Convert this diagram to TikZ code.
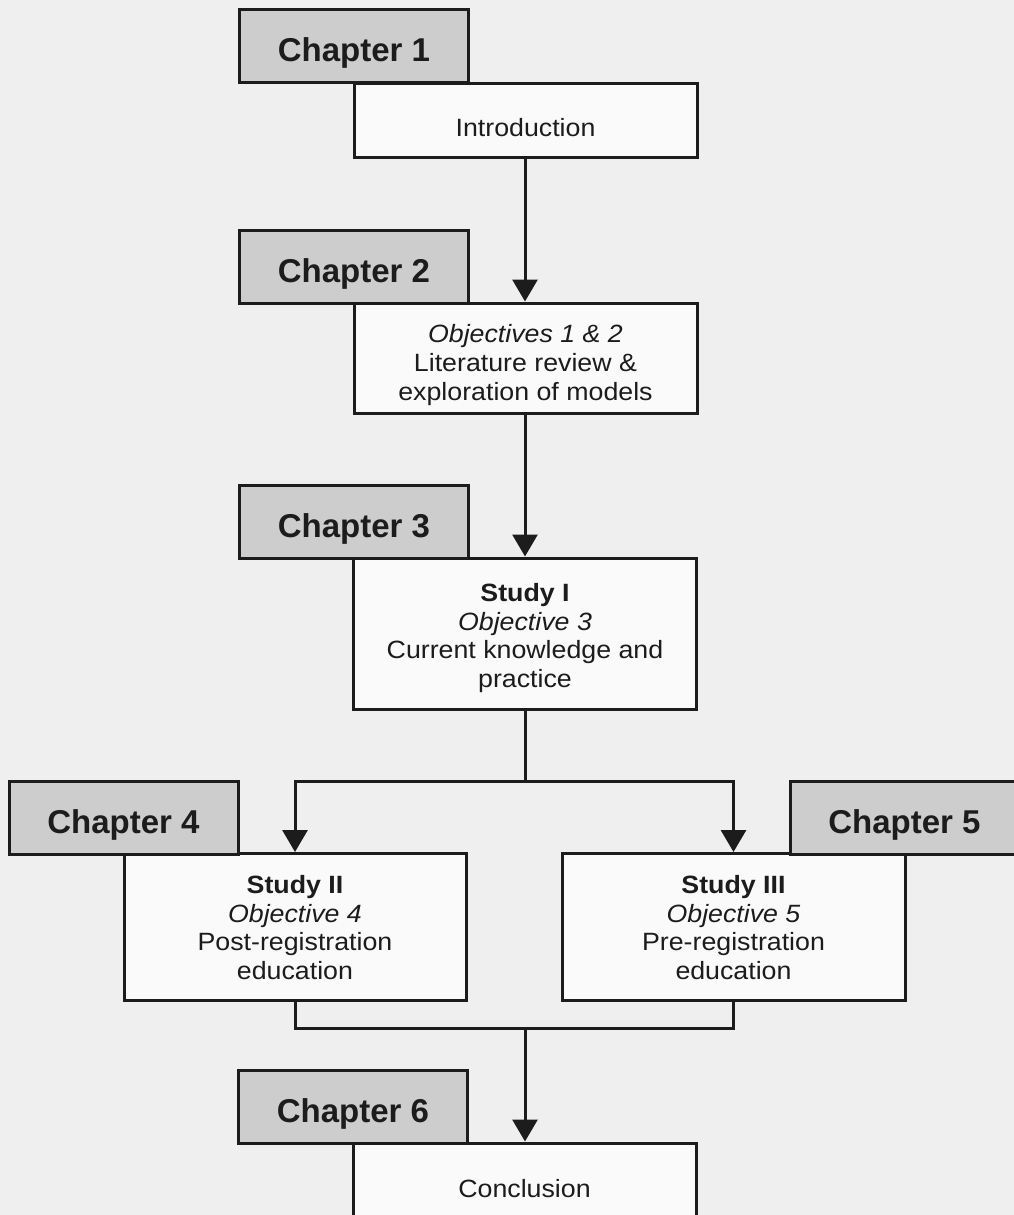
\documentclass[tikz,border=0pt]{standalone}
\usepackage{fontspec}
\setmainfont{Liberation Sans}
\newfontfamily\bodyfont[FakeStretch=1.07]{Liberation Sans}
\usetikzlibrary{arrows.meta,calc}
\definecolor{bg}{HTML}{EFEFEF}
\definecolor{chapfill}{HTML}{CDCDCD}
\definecolor{boxfill}{HTML}{FAFAFA}
\definecolor{ink}{HTML}{1C1C1C}
\tikzset{
  chapbox/.style={draw=ink, line width=3pt, fill=chapfill, inner sep=0pt,
    minimum width=229pt, minimum height=73pt, text height=39pt, text depth=8pt,
    font=\fontsize{33}{37}\selectfont\bfseries, text=ink},
  mainbox/.style={draw=ink, line width=3pt, fill=boxfill, inner sep=0pt},
  bodytext/.style={align=center, inner sep=0pt, text=ink,
    font=\bodyfont\fontsize{25}{28.8}\selectfont},
  conn/.style={draw=ink, line width=3pt},
  arr/.style={conn, -{Triangle[length=22pt,width=25pt]}}
}
\begin{document}
\begin{tikzpicture}[x=1pt,y=-1pt]
\useasboundingbox (0,0) rectangle (1014,1215);
\clip (0,0) rectangle (1014,1215);
\fill[bg] (0,0) rectangle (1014,1215);

% main boxes
\node[mainbox, minimum width=343pt, minimum height=74pt] (intro) at (525.5,120) {};
\node[mainbox, minimum width=343pt, minimum height=110pt] (lit) at (525.5,358) {};
\node[mainbox, minimum width=343pt, minimum height=151pt] (study1) at (525,633.5) {};
\node[mainbox, minimum width=342pt, minimum height=147pt] (study2) at (295,927) {};
\node[mainbox, minimum width=343pt, minimum height=147pt] (study3) at (733.5,927) {};
\node[mainbox, minimum width=343pt, minimum height=76pt] (concl) at (524.5,1181) {};

% chapter boxes
\node[chapbox] (ch1) at (354,46) {Chapter 1};
\node[chapbox] (ch2) at (354,266.5) {Chapter 2};
\node[chapbox] (ch3) at (354,522) {Chapter 3};
\node[chapbox] (ch4) at (123.5,817.5) {Chapter 4};
\node[chapbox] (ch5) at (904.5,817.5) {Chapter 5};
\node[chapbox] (ch6) at (353,1106.5) {Chapter 6};

% texts
\node[bodytext] (introtxt) at (525.5,128) {Introduction};
\node[bodytext] (littxt) at (525.5,365) {\textit{Objectives 1 \& 2}\\Literature review \&\\exploration of models};
\node[bodytext] (s1txt) at (525,638) {\textbf{Study I}\\\textit{Objective 3}\\Current knowledge and\\practice};
\node[bodytext] (s2txt) at (295,927.5) {\textbf{Study II}\\\textit{Objective 4}\\Post-registration\\education};
\node[bodytext] (s3txt) at (733.5,927.5) {\textbf{Study III}\\\textit{Objective 5}\\Pre-registration\\education};
\node[bodytext] (concltxt) at (524.5,1189) {Conclusion};

% connectors
\coordinate (split) at (525,781);
\coordinate (merge) at (525,1028);
\draw[arr] (intro.south -| 525,0) -- (lit.north -| 525,0);
\draw[arr] (lit.south -| 525,0) -- (study1.north);
\draw[conn] (study1.south) -- (split);
\draw[arr] (split) -| (study2.north);
\draw[arr] (split) -| (study3.north);
\draw[conn] (study2.south) |- (merge);
\draw[conn] (study3.south) |- (merge);
\draw[arr] (merge) -- (concl.north -| merge);
\end{tikzpicture}
\end{document}
